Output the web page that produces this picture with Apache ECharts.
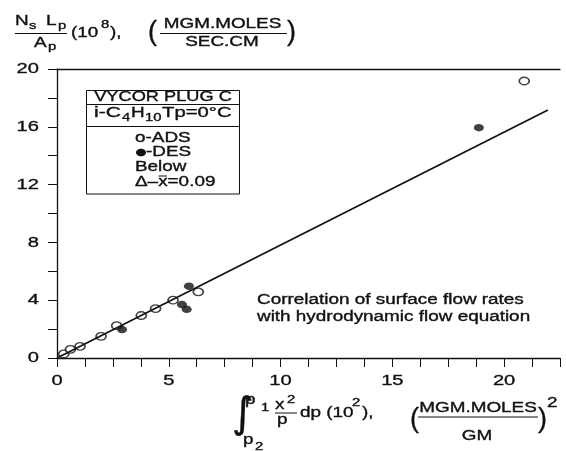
<!DOCTYPE html>
<html>
<head>
<meta charset="utf-8">
<script src="https://cdn.jsdelivr.net/npm/echarts@6/dist/echarts.min.js"></script>
<style>
html, body { margin: 0; padding: 0; background: #fff; }
#chart { width: 566px; height: 451px; }
</style>
</head>
<body>
<div id="chart"></div>
<script>
// adsorption (open) and desorption (filled) points
const adsX = [0.30, 0.60, 1.03, 1.97, 2.67, 3.77, 4.41, 5.19, 6.32, 20.9]
const adsY = [0.28, 0.60, 0.81, 1.50, 2.24, 2.94, 3.42, 4.00, 4.58, 19.17]
const desX = [2.91, 5.59, 5.80, 5.90, 18.87]
const desY = [1.97, 3.70, 3.37, 4.97, 15.94]
// correlation line end points
const fitX = [0, 21.96]
const fitY = [0, 17.17]
// tick labels
const xTicks = [0, 5, 10, 15, 20]
const yTicks = [0, 4, 8, 12, 16, 20]

const INK = '#111'
const FONT = '"Liberation Sans", Arial, sans-serif'
const SX = 1.35 // the scanned figure is stretched sideways
const ELLIPSE = 'path://M0,5a5,5 0 1,0 10,0a5,5 0 1,0 -10,0z'

function txt(x, y, text, size, align, sx, family) {
    return {
        type: 'text', x: x, y: y, scaleX: sx == null ? SX : sx, silent: true, z: 100,
        style: {
            text: text, fill: INK, fontSize: size, fontFamily: family || FONT,
            stroke: INK, lineWidth: 0.35,
            align: align || 'left', verticalAlign: 'middle',
            textAlign: align || 'left', textVerticalAlign: 'middle'
        }
    }
}
function hline(x1, x2, y, w) {
    return { type: 'line', silent: true, z: 100, shape: { x1: x1, y1: y, x2: x2, y2: y }, style: { stroke: INK, lineWidth: w || 1 } }
}

const chart = echarts.init(document.getElementById('chart'))

const axisCommon = {
    type: 'value',
    splitLine: { show: false },
    axisLabel: { show: false },
    axisLine: { show: true, lineStyle: { color: INK, width: 1.3 } },
    axisTick: { show: true, inside: false, length: 9, lineStyle: { color: INK, width: 1 } }
}

chart.setOption({
    animation: false,
    backgroundColor: '#fff',
    grid: { left: 57, right: 6, top: 69, bottom: 93 },
    xAxis: [
        Object.assign({}, axisCommon, { min: 0, max: 22.5, interval: 1.25 }),
        Object.assign({}, axisCommon, { position: 'top', min: 0, max: 22.5, axisTick: { show: false } })
    ],
    yAxis: Object.assign({}, axisCommon, { min: 0, max: 20, interval: 2 }),
    series: [
        {
            type: 'line',
            data: fitX.map((x, i) => [x, fitY[i]]),
            symbol: 'none',
            lineStyle: { color: INK, width: 1.7 }
        },
        {
            type: 'scatter',
            data: adsX.map((x, i) => [x, adsY[i]]),
            symbol: ELLIPSE,
            symbolSize: [10, 7.5],
            itemStyle: { color: '#fff', borderColor: INK, borderWidth: 1.5 }
        },
        {
            type: 'scatter',
            data: desX.map((x, i) => [x, desY[i]]),
            symbol: ELLIPSE,
            symbolSize: [10, 7.5],
            itemStyle: { color: INK }
        }
    ]
})

const g = []

// tick labels placed through the axis scales
xTicks.forEach(v => {
    const p = chart.convertToPixel({ xAxisIndex: 0 }, v)
    g.push(txt(p, 381, String(v), 15.5, 'center', 1.3))
})
yTicks.forEach(v => {
    const p = chart.convertToPixel({ yAxisIndex: 0 }, v)
    g.push(txt(39, p, String(v), 15.5, 'right', 1.3))
})

// y title: Ns Lp / Ap (10^8), (MGM.MOLES / SEC.CM)
g.push(txt(15, 21, 'N', 14), txt(29, 25.5, 's', 11), txt(46, 21, 'L', 14), txt(58, 25.5, 'p', 11))
g.push(hline(15, 67, 33.5))
g.push(txt(34, 43.5, 'A', 14), txt(48, 47, 'p', 11))
g.push(txt(71, 33, '(10', 14), txt(101, 25, '8', 11), txt(110, 33, '),', 14))
g.push(txt(148, 33, '(', 27, 'left', 1))
g.push(txt(222.5, 24.5, 'MGM.MOLES', 14, 'center'), hline(160, 287, 33.5), txt(222, 42, 'SEC.CM', 14, 'center'))
g.push(txt(287, 33, ')', 27, 'left', 1))

// x title: integral p2..p1 x^2/p dp (10^2), (MGM.MOLES / GM)^2
g.push(txt(232, 416, '\u222B', 42, 'left', 1, '"DejaVu Sans"'))
g.push(txt(245, 400, 'p', 14), txt(261, 408, '1', 11))
g.push(txt(243, 440, 'p', 14), txt(255, 447, '2', 11))
g.push(txt(275, 405, 'x', 14), txt(287, 400, '2', 11), hline(275, 297, 413), txt(277, 420, 'p', 14))
g.push(txt(300, 413.5, 'dp (10', 14), txt(352, 403, '2', 11), txt(362, 413.5, '),', 14))
g.push(txt(410, 420, '(', 27, 'left', 1))
g.push(txt(478, 408.5, 'MGM.MOLES', 14, 'center'), hline(418, 538, 417), txt(477, 436.5, 'GM', 14, 'center'))
g.push(txt(538, 420, ')', 27, 'left', 1), txt(547, 403, '2', 14))

// annotation
g.push(txt(257, 300, 'Correlation of surface flow rates', 14))
g.push(txt(257, 317, 'with hydrodynamic flow equation', 14))

// key box
g.push({ type: 'rect', silent: true, z: 90, shape: { x: 86.5, y: 90.5, width: 153, height: 103.5 }, style: { fill: '#fff', stroke: INK, lineWidth: 1 } })
g.push(hline(86.5, 239.5, 104.5), hline(86.5, 239.5, 126.5))
g.push(txt(163, 97.5, 'VYCOR PLUG C', 14, 'center', 1.3))
g.push(txt(94, 113.5, 'i-C', 14, 'left', 1.5), txt(122, 117.5, '4', 11), txt(131, 113.5, 'H', 14), txt(145, 117.5, '10', 11), txt(162, 113.5, 'Tp=0\u00B0C', 14, 'left', 1.45))
g.push(txt(135, 138.5, 'o-ADS', 14))
g.push({ type: 'ellipse', silent: true, z: 100, shape: { cx: 141, cy: 152.5, rx: 5, ry: 3.8 }, style: { fill: INK } })
g.push(txt(146, 152.5, '-DES', 14))
g.push(txt(135, 167.5, 'Below', 14))
g.push(txt(135, 182, '\u0394\u2013x=0.09', 14), hline(158.5, 167, 176))

chart.setOption({ graphic: g })
</script>
</body>
</html>
